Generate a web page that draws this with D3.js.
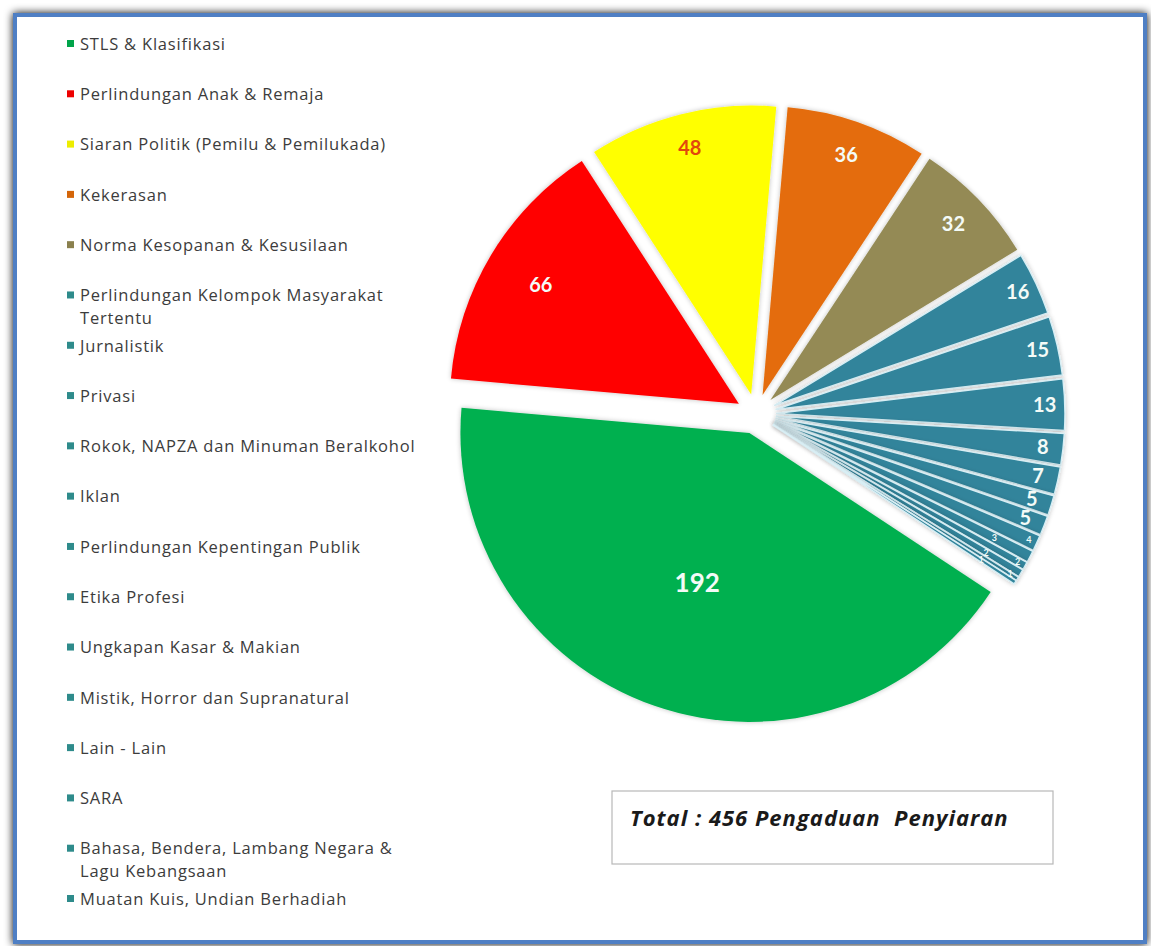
<!DOCTYPE html>
<meta charset="utf-8">
<script src="https://d3js.org/d3.v7.min.js"></script>
<style>
  body { margin: 0; background: #fff; }
</style>
<div id="my_dataviz"></div>
<script>

  // categories, in legend / slice order
  var categories = [
    "STLS & Klasifikasi",
    "Perlindungan Anak & Remaja",
    "Siaran Politik (Pemilu & Pemilukada)",
    "Kekerasan",
    "Norma Kesopanan & Kesusilaan",
    "Perlindungan Kelompok Masyarakat Tertentu",
    "Jurnalistik",
    "Privasi",
    "Rokok, NAPZA dan Minuman Beralkohol",
    "Iklan",
    "Perlindungan Kepentingan Publik",
    "Etika Profesi",
    "Ungkapan Kasar & Makian",
    "Mistik, Horror dan Supranatural",
    "Lain - Lain",
    "SARA",
    "Bahasa, Bendera, Lambang Negara & Lagu Kebangsaan",
    "Muatan Kuis, Undian Berhadiah"
  ];

  // number of complaints per category
  var values = [192, 66, 48, 36, 32, 16, 15, 13, 8, 7, 5, 5, 4, 3, 2, 2, 1, 1];

  var total = 456;

  // slice colours
  var palette = ["#00b050", "#ff0000", "#ffff00", "#e46c0a", "#948a54"];
  var otherColor = "#31849b";

  var W = 1151, H = 946;

  var svg = d3.select("#my_dataviz")
    .append("svg")
    .attr("width", W)
    .attr("height", H);

  var defs = svg.append("defs");
  var sh = defs.append("filter").attr("id", "frameShadow")
    .attr("x", "-5%").attr("y", "-5%").attr("width", "110%").attr("height", "110%");
  sh.append("feGaussianBlur").attr("in", "SourceAlpha").attr("stdDeviation", 4).attr("result", "b");
  sh.append("feMerge").selectAll("feMergeNode")
    .data(["b", "SourceGraphic"]).enter().append("feMergeNode").attr("in", function (d) { return d; });

  var glow = defs.append("filter").attr("id", "glow")
    .attr("x", "-20%").attr("y", "-20%").attr("width", "140%").attr("height", "140%");
  glow.append("feGaussianBlur").attr("in", "SourceAlpha").attr("stdDeviation", 2.5).attr("result", "bl");
  glow.append("feComponentTransfer").attr("in", "bl").attr("result", "bl2")
    .append("feFuncA").attr("type", "linear").attr("slope", 0.25);
  var gm = glow.append("feMerge");
  gm.append("feMergeNode").attr("in", "bl2");
  gm.append("feMergeNode").attr("in", "SourceGraphic");

  // outer frame
  svg.append("rect")
    .attr("x", 15).attr("y", 15)
    .attr("width", 1130).attr("height", 927)
    .attr("fill", "#fff")
    .attr("stroke", "#4f7fc4")
    .attr("stroke-width", 4)
    .attr("filter", "url(#frameShadow)");

  // pie
  var cx = 756, cy = 414, R = 289, explode = 20;
  var startA = 123.4 * Math.PI / 180;

  var pie = d3.pie().sort(null).value(function (d) { return d; })
    .startAngle(startA).endAngle(startA + 2 * Math.PI);
  var arcs = pie(values);
  var arc = d3.arc().innerRadius(0).outerRadius(R);

  var color = function (i) { return i < palette.length ? palette[i] : otherColor; };

  var g = svg.append("g").attr("transform", "translate(" + cx + "," + cy + ")");

  function shift(d, r) {
    var a = (d.startAngle + d.endAngle) / 2;
    return [r * Math.sin(a), -r * Math.cos(a)];
  }

  g.selectAll("path")
    .data(arcs)
    .enter()
    .append("path")
    .attr("transform", function (d) { var p = shift(d, explode); return "translate(" + p[0] + "," + p[1] + ")"; })
    .attr("d", arc)
    .attr("fill", function (d, i) { return color(i); })
    .attr("stroke", function (d, i) { return i < 5 ? "none" : "#d8eef4"; })
    .attr("stroke-width", 1.5)
    .attr("filter", "url(#glow)");

  // value labels
  function labelRadius(i) {
    if (i === 0) return 0.55;
    if (i === 1) return 0.8;
    if (i < 5) return 0.88;
    if (i < 12) return 0.93;
    return i % 2 === 0 ? 0.97 : 0.86;
  }

  g.selectAll("text.val")
    .data(arcs)
    .enter()
    .append("text")
    .attr("class", "val")
    .attr("transform", function (d, i) {
      var p = shift(d, explode + labelRadius(i) * R);
      return "translate(" + p[0] + "," + p[1] + ")";
    })
    .attr("text-anchor", "middle")
    .attr("dy", "0.35em")
    .style("font-family", "Lato, 'Open Sans', sans-serif")
    .style("font-weight", "bold")
    .style("font-size", function (d, i) { return i === 0 ? "26px" : (i < 12 ? "20px" : "9px"); })
    .style("fill", function (d, i) { return i === 2 ? "#e2470c" : "#f4fbf7"; })
    .text(function (d) { return d.data; });

  // legend
  var legend = svg.append("g").attr("class", "legend");
  var rowY = d3.scaleLinear().domain([0, categories.length - 1]).range([44, 899]);
  var wrapAt = { 5: ["Perlindungan Kelompok Masyarakat", "Tertentu"],
                 16: ["Bahasa, Bendera, Lambang Negara &", "Lagu Kebangsaan"] };

  categories.forEach(function (c, i) {
    var y = rowY(i);
    legend.append("rect")
      .attr("x", 67).attr("y", y - 4)
      .attr("width", 7).attr("height", 7)
      .attr("fill", i < 5 ? d3.color(color(i)).darker(0.2) : "#2e8b8b");
    var lines = wrapAt[i] || [c];
    var t = legend.append("text")
      .attr("x", 80).attr("y", y)
      .style("font-family", "'Open Sans', Lato, sans-serif")
      .style("font-size", "16.5px")
      .style("letter-spacing", "0.8px")
      .style("fill", "#3c3c3c");
    lines.forEach(function (l, j) {
      t.append("tspan").attr("x", 80).attr("dy", j === 0 ? "0.35em" : "1.35em").text(l);
    });
  });

  // total box
  svg.append("rect")
    .attr("x", 612).attr("y", 791)
    .attr("width", 441).attr("height", 73)
    .attr("fill", "#fff")
    .attr("stroke", "#b8b8b8")
    .attr("stroke-width", 1.2);

  svg.append("text")
    .attr("x", 630).attr("y", 826)
    .style("font-family", "'Open Sans', Lato, sans-serif")
    .style("font-weight", "bold")
    .style("font-style", "italic")
    .style("font-size", "22px")
    .style("letter-spacing", "1px")
    .style("white-space", "pre")
    .style("fill", "#1a1a1a")
    .text("Total : " + total + " Pengaduan  Penyiaran");

</script>
